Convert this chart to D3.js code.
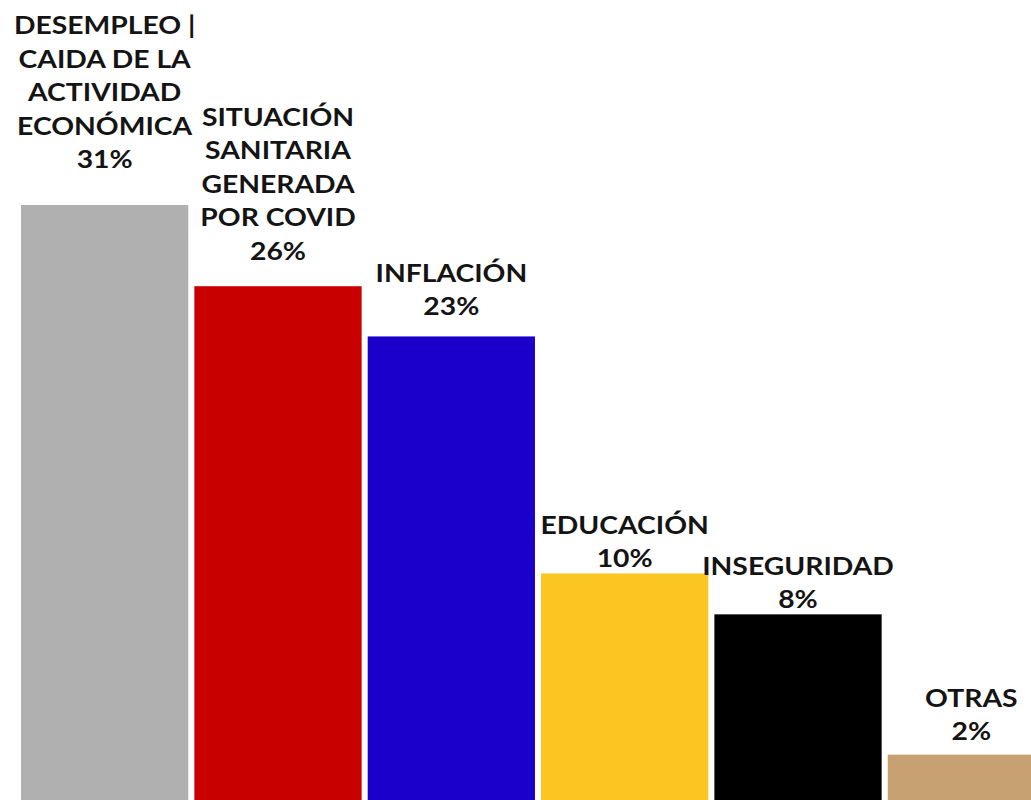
<!DOCTYPE html>
<html>
<head>
<meta charset="utf-8">
<script src="https://cdn.jsdelivr.net/npm/d3@7"></script>
<style>
  html, body { margin: 0; padding: 0; background: #fff; overflow: hidden; }
  svg { display: block; }
</style>
</head>
<body>
<svg id="chart" width="1031" height="800"></svg>
<script>
const categories = ["DESEMPLEO | CAIDA DE LA ACTIVIDAD ECONÓMICA", "SITUACIÓN SANITARIA GENERADA POR COVID", "INFLACIÓN", "EDUCACIÓN", "INSEGURIDAD", "OTRAS"];
const labelLines = [
  ["DESEMPLEO |", "CAIDA DE LA", "ACTIVIDAD", "ECONÓMICA"],
  ["SITUACIÓN", "SANITARIA", "GENERADA", "POR COVID"],
  ["INFLACIÓN"],
  ["EDUCACIÓN"],
  ["INSEGURIDAD"],
  ["OTRAS"]
];
const values = [31, 26, 23, 10, 8, 2];
const colors = ["#b0b0b0", "#c80000", "#1b00cb", "#fbc522", "#000000", "#c8a173"];

const W = 1031, H = 800;
const svg = d3.select("#chart");

const x = d3.scaleBand().domain(categories).range([21, 1055]).paddingInner(0.035).paddingOuter(0);
const yBar = d3.scalePow().exponent(0.8).domain([0, 31]).range([823.7, 205]);
const yLabel = d3.scalePow().exponent(0.9).domain([0, 31]).range([793.2, 168]);

const data = categories.map((c, i) => ({ c, v: values[i], lines: labelLines[i], color: colors[i] }));

svg.selectAll("rect.bar").data(data).join("rect")
  .attr("class", "bar")
  .attr("x", d => x(d.c))
  .attr("width", x.bandwidth())
  .attr("y", d => yBar(d.v))
  .attr("height", d => yBar(0) - yBar(d.v))
  .attr("fill", d => d.color);

const lineH = 33.5;
const stretch = 1.11;
const g = svg.selectAll("g.lbl").data(data).join("g").attr("class", "lbl");
g.each(function(d) {
  const sel = d3.select(this);
  const all = d.lines.concat([d.v + "%"]);
  const n = all.length;
  const cx = x(d.c) + x.bandwidth() / 2;
  sel.selectAll("text").data(all).join("text")
    .attr("transform", (t, j) => `translate(${cx},${yLabel(d.v) - (n - 1 - j) * lineH}) scale(${stretch},1)`)
    .attr("text-anchor", "middle")
    .attr("font-family", "Lato, 'Open Sans', sans-serif")
    .attr("font-weight", 700)
    .attr("font-size", "25.5px")
    .attr("fill", "#141414")
    .text(t => t);
});
</script>
</body>
</html>
